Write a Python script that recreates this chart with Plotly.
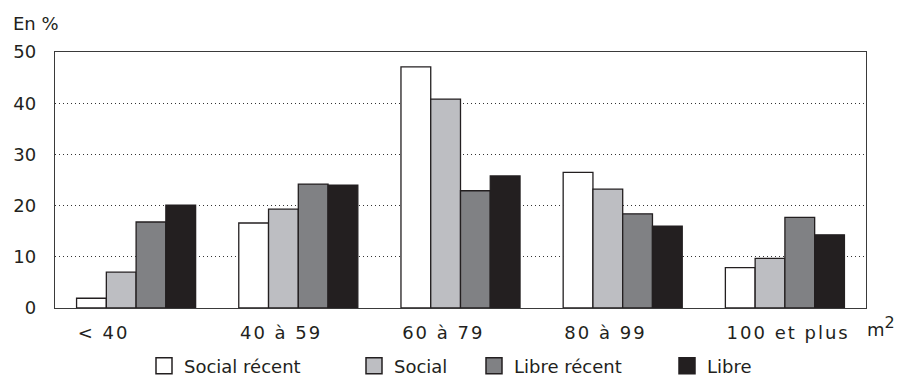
import plotly.graph_objects as go

categories = ["< 40", "40 à 59", "60 à 79", "80 à 99", "100 et plus"]
series_names = ["Social récent", "Social", "Libre récent", "Libre"]
social_recent = [1.9, 16.6, 47.1, 26.5, 7.9]
social = [7.0, 19.3, 40.8, 23.2, 9.7]
libre_recent = [16.8, 24.2, 22.9, 18.4, 17.7]
libre = [20.1, 24.0, 25.8, 16.0, 14.3]
y_ticks = [0, 10, 20, 30, 40, 50]

colors = ["#ffffff", "#bdbec2", "#808184", "#231f20"]
values = [social_recent, social, libre_recent, libre]

font = "DejaVu Sans"
txt = "#231f20"
W, H = 898, 376

fig = go.Figure()
for name, vals, col in zip(series_names, values, colors):
    fig.add_trace(go.Bar(
        x=categories, y=vals, name=name, showlegend=False,
        marker=dict(color=col, line=dict(color=txt, width=1.3)),
    ))

# legend entries (one legend per entry, positioned like the reference)
legend_x = [144, 354, 474, 667]
legend_ids = ["legend", "legend2", "legend3", "legend4"]
for name, col, lid in zip(series_names, colors, legend_ids):
    fig.add_trace(go.Scatter(
        x=[None], y=[None], mode="markers", name=name, legend=lid,
        marker=dict(symbol="square", size=16, color=col,
                    line=dict(color=txt, width=1.5)),
    ))

legend_common = dict(
    orientation="h", xref="container", yref="container",
    xanchor="left", yanchor="middle", y=1 - 366 / H,
    font=dict(family=font, size=18, color=txt),
    bgcolor="rgba(0,0,0,0)", borderwidth=0,
)
layout_legends = {}
for lid, lx in zip(legend_ids, legend_x):
    layout_legends[lid] = dict(legend_common, x=lx / W)

ticktext = ['<span style="letter-spacing:2px">%s</span>' % c for c in categories]

fig.update_layout(
    width=W, height=H,
    margin=dict(l=55, r=32, t=52, b=68, autoexpand=False),
    paper_bgcolor="white", plot_bgcolor="white",
    barmode="group", bargap=0.266, bargroupgap=0,
    font=dict(family=font, size=18, color=txt),
    showlegend=True,
    xaxis=dict(
        range=[-0.5, 4.5], showline=True, mirror=True, linecolor="#3a3a3a",
        linewidth=1.3, ticks="", showgrid=False, automargin=False,
        tickmode="array", tickvals=categories, ticktext=ticktext,
        ticklabelposition="outside right", ticklabelshift=-59,
        ticklabelstandoff=8,
        tickfont=dict(family=font, size=18, color=txt),
    ),
    yaxis=dict(
        range=[0, 50], tickvals=y_ticks, showline=True, mirror=True,
        linecolor="#3a3a3a", linewidth=1.3, ticks="", automargin=False,
        showgrid=True, gridcolor="#333", griddash="1px,3px", gridwidth=1,
        ticklabelstandoff=14,
        tickfont=dict(family=font, size=18, color=txt),
        zeroline=False,
    ),
    annotations=[
        dict(text="En %", xref="paper", yref="paper", x=(11 - 55) / 811, y=(308 - 23) / 256,
             xanchor="left", yanchor="middle", showarrow=False,
             font=dict(family=font, size=18, color=txt)),
        dict(text="m<sup><span style='font-size:16px'>2</span></sup>",
             xref="paper", yref="paper", x=(897 - 55) / 811,
             y=(308 - 326) / 256, xanchor="right", yanchor="middle", showarrow=False,
             font=dict(family=font, size=18, color=txt)),
    ],
    **layout_legends,
)

fig.write_html("out.html", config={"displayModeBar": False},
               post_script="document.body.style.margin='0';document.body.style.overflow='hidden';")
